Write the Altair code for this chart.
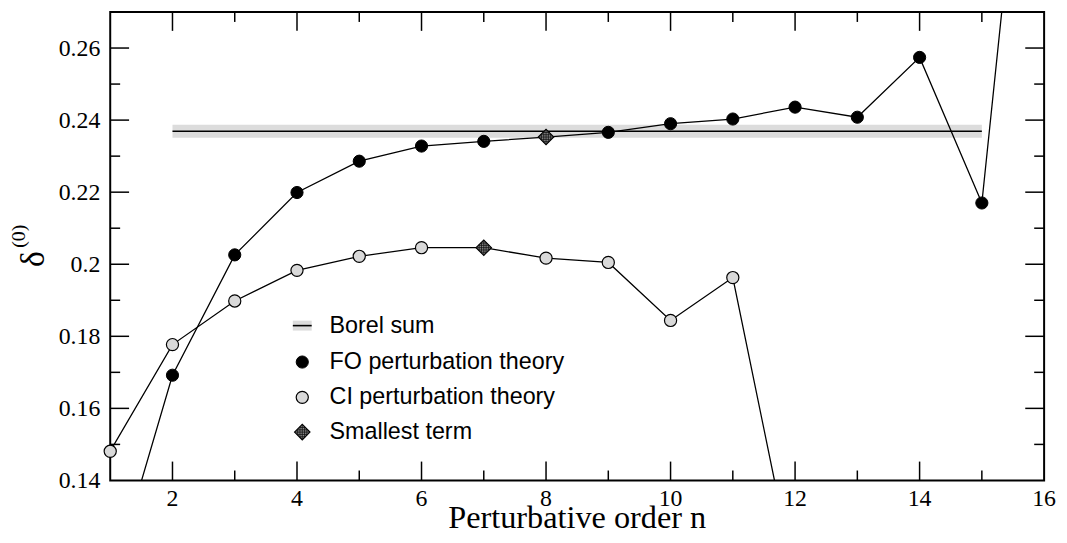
import altair as alt
import pandas as pd

# ---- data ----
n_fo = list(range(1, 17))
fo_values = [0.1104, 0.1692, 0.2026, 0.2199, 0.2286, 0.2328, 0.2341, 0.2353,
             0.2366, 0.2390, 0.2403, 0.2436, 0.2408, 0.2574, 0.2170, 0.383]
n_ci = list(range(1, 13))
ci_values = [0.1481, 0.1777, 0.1898, 0.1983, 0.2022, 0.2046, 0.2046, 0.2017,
             0.2005, 0.1844, 0.1963, 0.1122]
fo_smallest_n = 8
ci_smallest_n = 7
borel_value = 0.2369
borel_err = 0.0018
borel_n_range = [2, 15]

x_major = [2, 4, 6, 8, 10, 12, 14, 16]
x_tick_labels = ["2", "4", "6", "8", "10", "12", "14", "16"]
x_minor = [3, 5, 7, 9, 11, 13, 15]
y_major = [0.14, 0.16, 0.18, 0.20, 0.22, 0.24, 0.26]
y_tick_labels = ["0.14", "0.16", "0.18", "0.2", "0.22", "0.24", "0.26"]
y_minor = [0.15, 0.17, 0.19, 0.21, 0.23, 0.25]
legend_labels = ["Borel sum", "FO perturbation theory", "CI perturbation theory", "Smallest term"]
x_title = "Perturbative order n"

X_DOMAIN = [1, 16]
Y_DOMAIN = [0.14, 0.27]
W, H = 941, 472
SERIF = "Liberation Serif"
SANS = "Liberation Sans"

df_fo = pd.DataFrame({"n": n_fo, "v": fo_values})
df_fo["smallest"] = df_fo["n"] == fo_smallest_n
df_ci = pd.DataFrame({"n": n_ci, "v": ci_values})
df_ci["smallest"] = df_ci["n"] == ci_smallest_n
df_small = pd.concat([df_fo[df_fo.smallest], df_ci[df_ci.smallest]])
df_borel = pd.DataFrame({"n": [borel_n_range[0]], "n1": [borel_n_range[1]],
                         "v": [borel_value - borel_err], "hi": [borel_value + borel_err],
                         "mid": [borel_value]})
df_xmaj = pd.DataFrame({"n": x_major[:-1]})
df_xmin = pd.DataFrame({"n": x_minor})
df_ymaj = pd.DataFrame({"v": y_major[1:]})
df_ymin = pd.DataFrame({"v": y_minor})
df_xlab = pd.DataFrame({"n": x_major, "label": x_tick_labels})
df_ylab = pd.DataFrame({"v": y_major, "label": y_tick_labels})
dummy = pd.DataFrame({"a": [0]})

xscale = alt.Scale(domain=X_DOMAIN, nice=False, zero=False)
yscale = alt.Scale(domain=Y_DOMAIN, nice=False, zero=False)

def X(field="n"):
    return alt.X(f"{field}:Q", scale=xscale, axis=None)

def Y(field="v"):
    return alt.Y(f"{field}:Q", scale=yscale, axis=None)

band = alt.Chart(df_borel).mark_rect(color="#dcdcdc").encode(
    x=X(), x2="n1:Q", y=Y(), y2="hi:Q")
borel_line = alt.Chart(df_borel).mark_rule(color="black", strokeWidth=1.6).encode(
    x=X(), x2="n1:Q", y=Y("mid"))

def series_line(df):
    return alt.Chart(df).mark_line(color="black", strokeWidth=1.3, clip=True).encode(
        x=X(), y=Y())

in_domain = f"datum.v >= {Y_DOMAIN[0]} && datum.v <= {Y_DOMAIN[1]} && !datum.smallest"
fo_pts = alt.Chart(df_fo).transform_filter(in_domain).mark_point(
    shape="circle", filled=True, fill="black", stroke="black", strokeWidth=1,
    size=150, opacity=1).encode(x=X(), y=Y())
ci_pts = alt.Chart(df_ci).transform_filter(in_domain).mark_point(
    shape="circle", filled=True, fill="#d9d9d9", stroke="black", strokeWidth=1.2,
    size=150, opacity=1).encode(x=X(), y=Y())

GRID = ("M-0.6,-0.4L-0.6,0.4M-0.3,-0.7L-0.3,0.7M0,-1L0,1M0.3,-0.7L0.3,0.7M0.6,-0.4L0.6,0.4"
        "M-0.4,-0.6L0.4,-0.6M-0.7,-0.3L0.7,-0.3M-1,0L1,0M-0.7,0.3L0.7,0.3M-0.4,0.6L0.4,0.6")
small_fill = alt.Chart(df_small).mark_point(
    shape="diamond", filled=True, fill="#8a8a8a", stroke="black", strokeWidth=1.2,
    size=240, opacity=1).encode(x=X(), y=Y())
small_grid = alt.Chart(df_small).mark_point(
    shape=GRID, filled=False, stroke="#111111", strokeWidth=0.8, size=240, opacity=1).encode(
    x=X(), y=Y())

# inward ticks on all four sides
def xticks(df, length):
    bot = alt.Chart(df).mark_rule(color="black", strokeWidth=1.5).encode(
        x=X(), y=alt.value(H), y2=alt.value(H - length))
    top = alt.Chart(df).mark_rule(color="black", strokeWidth=1.5).encode(
        x=X(), y=alt.value(0), y2=alt.value(length))
    return [bot, top]

def yticks(df, length):
    left = alt.Chart(df).mark_rule(color="black", strokeWidth=1.5).encode(
        y=Y(), x=alt.value(0), x2=alt.value(length))
    right = alt.Chart(df).mark_rule(color="black", strokeWidth=1.5).encode(
        y=Y(), x=alt.value(W), x2=alt.value(W - length))
    return [left, right]

ticks = xticks(df_xmaj, 19) + xticks(df_xmin, 10) + yticks(df_ymaj, 19) + yticks(df_ymin, 10)

# tick labels (drawn through the scales)
xlabels = alt.Chart(df_xlab).mark_text(font=SERIF, fontSize=24, align="center",
                                       baseline="alphabetic", color="black").encode(
    x=X(), y=alt.value(H + 26), text="label:N")
ylabels = alt.Chart(df_ylab).mark_text(font=SERIF, fontSize=24, align="right",
                                       baseline="middle", color="black", dy=1).encode(
    y=Y(), x=alt.value(-10), text="label:N")

# axis titles
xtitle = alt.Chart(dummy).mark_text(font=SERIF, fontSize=32.5, align="center",
                                    baseline="alphabetic", color="black").encode(
    x=alt.value(W / 2), y=alt.value(H + 48), text=alt.value(x_title))
ytitle = alt.Chart(dummy).mark_text(font=SERIF, fontSize=34, angle=270, align="center",
                                    baseline="middle", color="black").encode(
    x=alt.value(-77), y=alt.value(249), text=alt.value("δ"))
ysup = alt.Chart(dummy).mark_text(font=SERIF, fontSize=20, angle=270, align="center",
                                  baseline="middle", color="black").encode(
    x=alt.value(-92), y=alt.value(226), text=alt.value("(0)"))

# legend
LX_SYM, LX_TXT = 193.5, 221
LY = [316, 352.7, 388.3, 423.3]
leg = []
leg.append(alt.Chart(dummy).mark_rect(color="#dcdcdc").encode(
    x=alt.value(LX_SYM - 9.5), x2=alt.value(LX_SYM + 9.5),
    y=alt.value(LY[0] - 5), y2=alt.value(LY[0] + 5)))
leg.append(alt.Chart(dummy).mark_rule(color="black", strokeWidth=1.6).encode(
    x=alt.value(LX_SYM - 9.5), x2=alt.value(LX_SYM + 9.5), y=alt.value(LY[0])))
leg.append(alt.Chart(dummy).mark_point(shape="circle", filled=True, fill="black",
                                       stroke="black", strokeWidth=1, size=150, opacity=1).encode(
    x=alt.value(LX_SYM), y=alt.value(LY[1])))
leg.append(alt.Chart(dummy).mark_point(shape="circle", filled=True, fill="#d9d9d9",
                                       stroke="black", strokeWidth=1.2, size=150, opacity=1).encode(
    x=alt.value(LX_SYM), y=alt.value(LY[2])))
leg.append(alt.Chart(dummy).mark_point(shape="diamond", filled=True, fill="#8a8a8a",
                                       stroke="black", strokeWidth=1.2, size=240, opacity=1).encode(
    x=alt.value(LX_SYM), y=alt.value(LY[3])))
leg.append(alt.Chart(dummy).mark_point(shape=GRID, filled=False, stroke="#111111",
                                       strokeWidth=0.8, size=240, opacity=1).encode(
    x=alt.value(LX_SYM), y=alt.value(LY[3])))
for lab, yy in zip(legend_labels, LY):
    leg.append(alt.Chart(dummy).mark_text(font=SANS, fontSize=23.5, align="left",
                                          baseline="middle", color="black").encode(
        x=alt.value(LX_TXT), y=alt.value(yy), text=alt.value(lab)))

chart = alt.layer(
    band, borel_line, series_line(df_fo), series_line(df_ci),
    fo_pts, ci_pts, small_fill, small_grid, *ticks,
    xlabels, ylabels, xtitle, ytitle, ysup, *leg
).properties(
    width=W, height=H,
    autosize=alt.AutoSizeParams(type="none"),
    padding={"left": 103, "top": 2, "right": 15, "bottom": 61},
    background="white",
).configure_view(stroke="black", strokeWidth=2)

chart.save("out.html", embed_options={"renderer": "svg", "actions": False})
